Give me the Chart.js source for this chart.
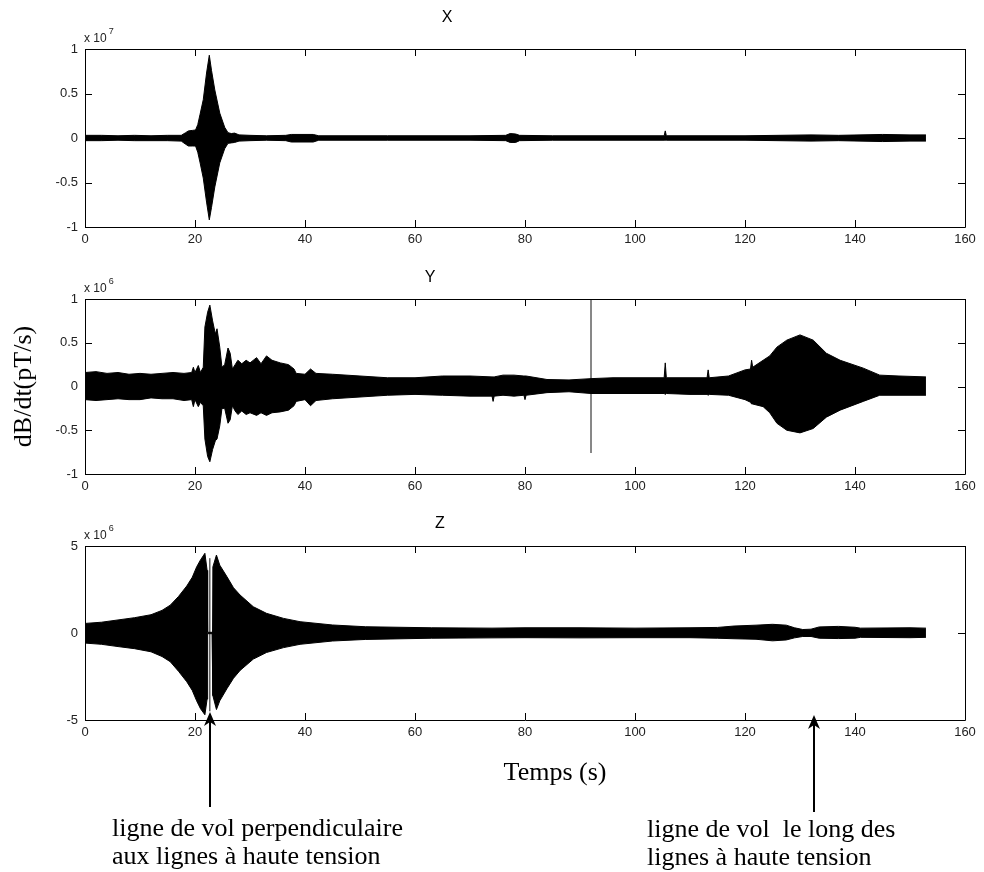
<!DOCTYPE html>
<html><head><meta charset="utf-8">
<script src="https://cdn.jsdelivr.net/npm/chart.js@4.4.0/dist/chart.umd.min.js"></script>
<style>
html,body{margin:0;padding:0;background:#fff;}
body{width:984px;height:872px;position:relative;overflow:hidden;}
canvas{position:absolute;left:0;}
</style></head><body>
<canvas id="cX" width="984" height="250" style="top:0px"></canvas>
<canvas id="cY" width="984" height="245" style="top:250px"></canvas>
<canvas id="cZ" width="984" height="377" style="top:495px"></canvas>
<script>
// ---------------- data (envelopes of dB/dt) ----------------
const panelTitles = ['X', 'Y', 'Z'];
const panelExponents = ['7', '6', '6'];
const timeMin = 0, timeMax = 160, timeStep = 20;

// X component, units of 1e7 pT/s
const tX = [0,3,6,9,12,15,17.5,18.3,18.8,19.5,20.1,20.5,20.9,21.5,22.1,22.6,23.0,23.6,24.5,25.4,26.0,26.6,27.2,28,30,33,36.5,37.5,41.5,42.5,48,55,62,70,76.5,77.3,78.3,79,85,92,100,105.3,105.5,105.7,112,120,126,132,137,145,150,152.9];
const xUpper = [.03,.03,.025,.03,.025,.03,.03,.06,.08,.085,.09,.15,.26,.43,.73,.93,.76,.54,.28,.12,.06,.05,.055,.035,.03,.025,.03,.04,.04,.025,.025,.025,.025,.025,.03,.05,.045,.03,.025,.025,.025,.025,.08,.025,.025,.025,.03,.035,.03,.04,.035,.035];
const xLower = [-.03,-.03,-.025,-.03,-.03,-.03,-.035,-.07,-.09,-.09,-.09,-.16,-.27,-.45,-.72,-.92,-.78,-.55,-.28,-.12,-.06,-.055,-.05,-.035,-.03,-.025,-.03,-.045,-.045,-.025,-.025,-.025,-.025,-.025,-.03,-.05,-.05,-.03,-.025,-.025,-.025,-.025,-.025,-.025,-.025,-.025,-.03,-.035,-.03,-.04,-.035,-.035];

// Y component, units of 1e6 pT/s
const tY = [0,2,4,6,8,10,12,14,16,18,19.4,19.7,20.0,20.6,21.0,21.5,21.8,22.3,22.7,23.2,23.7,24.0,24.5,24.9,25.4,26.0,26.4,26.8,27.3,27.8,28.5,29.3,30.0,31.2,32.0,33.0,34.0,35.5,37.0,38.0,38.4,40,41,42,45,50,55,60,65,70,74.0,74.2,74.4,76,78,79.8,80.0,80.2,84,88,92,96,100,105.3,105.5,105.7,110,113.1,113.3,113.5,117,120,121.0,121.2,121.4,123.3,124.5,125.8,127.6,130,132.4,134.8,137.3,141.5,144.5,148,152.9];
const yUpper = [.16,.17,.15,.16,.14,.15,.14,.15,.16,.15,.16,.22,.16,.24,.16,.22,.68,.85,.93,.75,.6,.66,.45,.22,.25,.44,.38,.2,.25,.3,.26,.3,.27,.33,.26,.35,.3,.27,.25,.2,.15,.14,.2,.15,.14,.12,.1,.1,.12,.12,.11,.11,.11,.13,.13,.12,.12,.12,.08,.075,.09,.1,.1,.1,.27,.1,.1,.1,.19,.1,.12,.19,.2,.3,.22,.3,.35,.45,.53,.59,.53,.38,.3,.21,.13,.12,.11];
const yLower = [-.15,-.16,-.15,-.14,-.15,-.15,-.13,-.14,-.14,-.16,-.15,-.23,-.15,-.23,-.18,-.22,-.6,-.8,-.86,-.72,-.62,-.6,-.45,-.25,-.25,-.42,-.38,-.22,-.28,-.32,-.28,-.32,-.3,-.33,-.3,-.33,-.3,-.29,-.27,-.22,-.17,-.15,-.22,-.16,-.14,-.12,-.1,-.09,-.1,-.11,-.11,-.17,-.11,-.1,-.11,-.1,-.15,-.1,-.07,-.06,-.08,-.08,-.08,-.08,-.09,-.08,-.09,-.09,-.1,-.09,-.1,-.15,-.18,-.2,-.2,-.23,-.3,-.42,-.5,-.53,-.48,-.35,-.27,-.17,-.1,-.1,-.1];
const ySpikeT = [92];
const ySpikeLow = [-0.76];
const ySpikeHigh = [1.0];

// Z component, units of 1e6 pT/s
const tZ = [0,3,6,9,12,14,15.5,17,18.5,19.5,20.3,21.0,21.8,22.2,22.3,23.1,23.25,23.9,24.5,25.8,27.0,28.2,30.6,33.0,36.1,39.1,45,51,63,74,80,90,100,110,115,118,122,125,127.5,129,130.5,132,133.5,137,140,141,150,152.9];
const zUpper = [.55,.62,.75,.88,1.05,1.3,1.6,2.1,2.7,3.2,3.8,4.2,4.58,3.6,.04,.04,3.8,4.48,3.9,3.24,2.6,2.18,1.51,1.13,.84,.65,.46,.36,.3,.28,.3,.3,.28,.3,.32,.4,.45,.5,.45,.3,.2,.22,.35,.38,.33,.28,.3,.28];
const zLower = [-.58,-.65,-.78,-.9,-1.08,-1.35,-1.65,-2.2,-2.8,-3.3,-3.9,-4.35,-4.7,-3.8,-.04,-.04,-3.6,-4.4,-3.9,-3.2,-2.6,-2.15,-1.5,-1.12,-.84,-.65,-.46,-.37,-.3,-.28,-.27,-.28,-.27,-.27,-.3,-.33,-.36,-.45,-.4,-.28,-.2,-.2,-.3,-.32,-.3,-.25,-.27,-.25];
const zSpikeT = [22.7];
const zSpikeLow = [-4.5];
const zSpikeHigh = [4.3];

// annotations
const arrowTimes = [22.7, 132.5];
const annotationLeft = ['ligne de vol perpendiculaire', 'aux lignes à haute tension'];
const annotationRight = ['ligne de vol  le long des', 'lignes à haute tension'];
const xAxisTitle = 'Temps (s)';
const yAxisTitle = 'dB/dt(pT/s)';

// ---------------- helpers ----------------
const pts = (ts, vs) => ts.map((t, i) => ({x: t, y: vs[i]}));
const spikePts = (ts, lo, hi) => {
  const d = [];
  ts.forEach((t, i) => { d.push({x: t, y: lo[i]}, {x: t, y: hi[i]}, {x: t, y: null}); });
  return d;
};

const matlabAxes = {
  id: 'matlabAxes',
  afterDatasetsDraw(chart, args, o) {
    const {ctx, chartArea: a} = chart;
    const xs = chart.scales.x, ys = chart.scales.y;
    ctx.save();
    ctx.strokeStyle = '#000';
    ctx.lineWidth = 1;
    ctx.beginPath();
    ctx.rect(Math.round(a.left) + 0.5, Math.round(a.top) + 0.5, Math.round(a.right - a.left), Math.round(a.bottom - a.top));
    const L = 7;
    xs.ticks.forEach(t => {
      const p = Math.round(xs.getPixelForValue(t.value)) + 0.5;
      ctx.moveTo(p, a.bottom); ctx.lineTo(p, a.bottom - L);
      ctx.moveTo(p, a.top); ctx.lineTo(p, a.top + L);
    });
    ys.ticks.forEach(t => {
      const p = Math.round(ys.getPixelForValue(t.value)) + 0.5;
      ctx.moveTo(a.left, p); ctx.lineTo(a.left + L, p);
      ctx.moveTo(a.right, p); ctx.lineTo(a.right - L, p);
    });
    ctx.stroke();
    ctx.restore();
  },
  afterDraw(chart, args, o) {
    const {ctx, chartArea: a} = chart;
    const xs = chart.scales.x;
    ctx.save();
    ctx.fillStyle = '#000';
    ctx.textBaseline = 'middle';
    // panel title
    ctx.font = '16px "Liberation Sans", Arial, sans-serif';
    ctx.textAlign = 'center';
    ctx.fillText(o.title, o.titleX, a.top + o.titleDy);
    // exponent "x 10^n"
    ctx.textAlign = 'left';
    ctx.fillStyle = '#222';
    ctx.font = '12px "Liberation Sans", Arial, sans-serif';
    const base = 'x 10';
    ctx.fillText(base, a.left - 1, a.top - 10);
    const w = ctx.measureText(base).width;
    ctx.font = '9px "Liberation Sans", Arial, sans-serif';
    ctx.fillText(o.exponent, a.left + w + 1, a.top - 17);
    ctx.fillStyle = '#000';
    // free texts
    (o.texts || []).forEach(tx => {
      ctx.font = tx.font; ctx.textAlign = tx.align;
      ctx.fillText(tx.text, tx.x, a.bottom + tx.dy);
    });
    // arrows
    (o.arrows || []).forEach(ar => {
      const x = Math.round(xs.getPixelForValue(ar.t));
      const tip = a.bottom + ar.tipDy, bot = a.bottom + ar.baseDy;
      ctx.strokeStyle = '#000'; ctx.lineWidth = 2;
      ctx.beginPath(); ctx.moveTo(x, bot); ctx.lineTo(x, tip + 10); ctx.stroke();
      ctx.beginPath();
      ctx.moveTo(x, tip); ctx.lineTo(x - 6, tip + 14); ctx.lineTo(x, tip + 10); ctx.lineTo(x + 6, tip + 14);
      ctx.closePath(); ctx.fill();
    });
    ctx.restore();
  }
};
Chart.register(matlabAxes);

const tickFont = {family: '"Liberation Sans", Arial, sans-serif', size: 13};
const plainLabel = v => String(Number(v));

function makeChart(id, datasets, yMin, yMax, yStep, layoutPad, xAxisH, plug, yTitle) {
  return new Chart(document.getElementById(id), {
    type: 'line',
    data: {datasets},
    options: {
      responsive: false,
      animation: false,
      events: [],
      layout: {padding: layoutPad},
      elements: {point: {radius: 0}, line: {tension: 0}},
      plugins: {legend: {display: false}, tooltip: {enabled: false}, title: {display: false}, matlabAxes: plug},
      scales: {
        x: {
          type: 'linear', min: timeMin, max: timeMax,
          ticks: {stepSize: timeStep, autoSkip: false, maxRotation: 0, padding: 5, color: '#222',
                  font: tickFont, callback: plainLabel},
          grid: {display: false, drawTicks: false},
          border: {display: false},
          afterFit: s => { s.height = xAxisH; }
        },
        y: {
          type: 'linear', min: yMin, max: yMax,
          ticks: {stepSize: yStep, autoSkip: false, padding: 7, color: '#222',
                  font: tickFont, callback: plainLabel},
          grid: {display: false, drawTicks: false},
          border: {display: false},
          title: yTitle ? {display: true, text: yTitle, color: '#000',
                  font: {family: '"Liberation Serif", "Times New Roman", serif', size: 26},
                  padding: {top: 9, bottom: 0}} : {display: false},
          afterFit: s => { s.width = 85; }
        }
      }
    }
  });
}

function envelopeSets(ts, up, lo, spike) {
  const sets = [
    {data: pts(ts, up), borderColor: '#000', borderWidth: 1, fill: false, pointRadius: 0},
    {data: pts(ts, lo), borderColor: '#000', borderWidth: 1, fill: '-1', backgroundColor: '#000', pointRadius: 0}
  ];
  if (spike) sets.push({data: spikePts(spike[0], spike[1], spike[2]), borderColor: '#111', borderWidth: 1, fill: false, pointRadius: 0, spanGaps: false});
  return sets;
}

makeChart('cX', envelopeSets(tX, xUpper, xLower), -1, 1, 0.5,
  {top: 49, left: 0, right: 19, bottom: 0}, 23,
  {title: panelTitles[0], titleX: 447, titleDy: -31, exponent: panelExponents[0]});

makeChart('cY', envelopeSets(tY, yUpper, yLower, [ySpikeT, ySpikeLow, ySpikeHigh]), -1, 1, 0.5,
  {top: 49, left: 0, right: 19, bottom: 0}, 21,
  {title: panelTitles[1], titleX: 430, titleDy: -21, exponent: panelExponents[1]}, yAxisTitle);

const serif = '26px "Liberation Serif", "Times New Roman", serif';
makeChart('cZ', envelopeSets(tZ, zUpper, zLower, [zSpikeT, zSpikeLow, zSpikeHigh]), -5, 5, 5,
  {top: 51, left: 0, right: 19, bottom: 130}, 22,
  {title: panelTitles[2], titleX: 440, titleDy: -22, exponent: panelExponents[2],
   texts: [
     {text: xAxisTitle, x: 555, dy: 53, font: serif, align: 'center'},
     {text: annotationLeft[0], x: 112, dy: 109, font: serif, align: 'left'},
     {text: annotationLeft[1], x: 112, dy: 137, font: serif, align: 'left'},
     {text: annotationRight[0], x: 647, dy: 110, font: serif, align: 'left'},
     {text: annotationRight[1], x: 647, dy: 138, font: serif, align: 'left'}
   ],
   arrows: [
     {t: arrowTimes[0], tipDy: -8, baseDy: 87},
     {t: arrowTimes[1], tipDy: -5, baseDy: 92}
   ]});
</script>
</body></html>
